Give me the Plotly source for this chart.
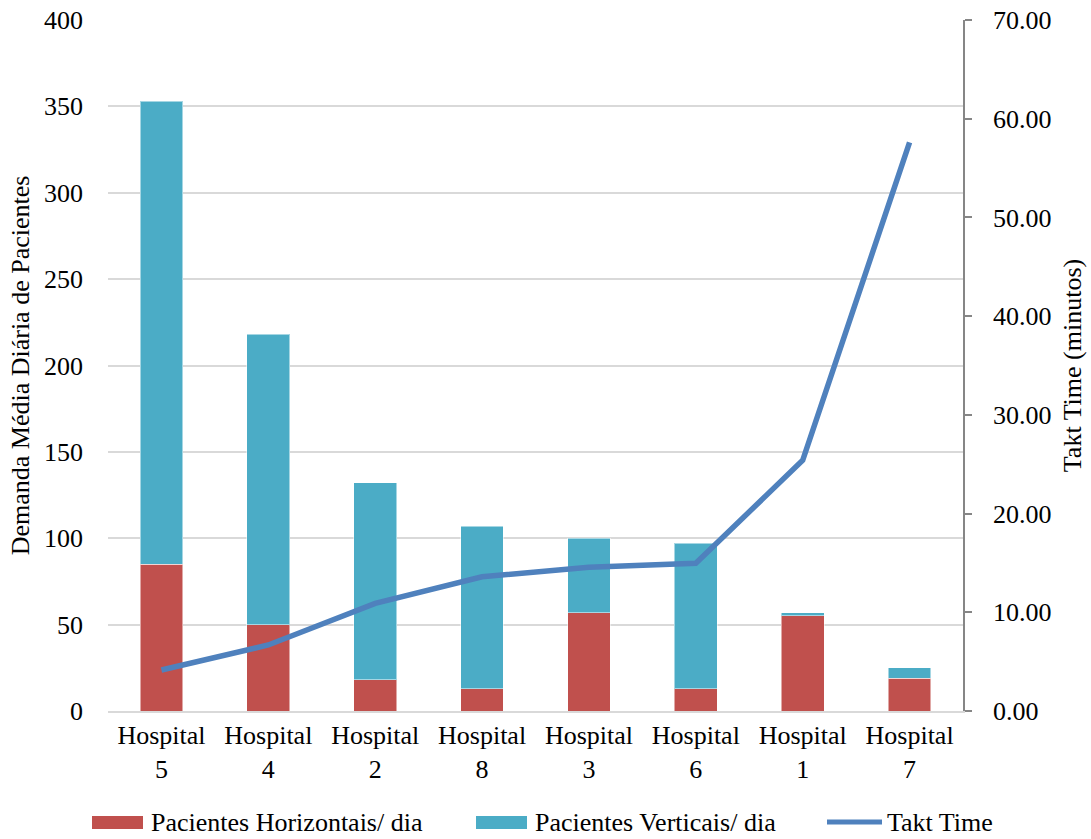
import plotly.graph_objects as go

# Hospitals ordered by increasing takt time
hospitais = ["Hospital<br>5", "Hospital<br>4", "Hospital<br>2", "Hospital<br>8",
             "Hospital<br>3", "Hospital<br>6", "Hospital<br>1", "Hospital<br>7"]
horizontais = [85, 50, 18, 13, 57, 13, 55, 19]      # Pacientes Horizontais/ dia
verticais = [268, 168, 114, 94, 43, 84, 2, 6]       # Pacientes Verticais/ dia
takt_time = [4.15, 6.69, 10.9, 13.6, 14.56, 14.96, 25.4, 57.6]  # minutos

COR_H = "#C0504D"
COR_V = "#4BACC6"
COR_T = "#4F81BD"
FONTE = "Liberation Serif, Times New Roman, serif"
TAM = 26

W, H = 1091, 839
L, R, T, B = 108, 128, 20, 128
PW, PH = W - L - R, H - T - B


def px_x(x):
    return (x - L) / PW


def px_y(y):
    return (H - B - y) / PH


fig = go.Figure()
fig.add_trace(go.Bar(x=hospitais, y=horizontais, name="Pacientes Horizontais/ dia",
                     marker=dict(color=COR_H, line=dict(color="rgba(255,255,255,0.5)", width=1)),
                     showlegend=False))
fig.add_trace(go.Bar(x=hospitais, y=verticais, name="Pacientes Verticais/ dia",
                     marker=dict(color=COR_V, line=dict(color="rgba(255,255,255,0.5)", width=1)),
                     showlegend=False))
fig.add_trace(go.Scatter(x=hospitais, y=takt_time, name="Takt Time", yaxis="y2",
                         mode="lines", line=dict(color=COR_T, width=5.5),
                         showlegend=False))

# Legend drawn below the plot
LEG_Y = 822
legend_items = [
    ("rect", COR_H, 92, 143, "Pacientes Horizontais/ dia", 149),
    ("rect", COR_V, 476, 527, "Pacientes Verticais/ dia", 533),
    ("line", COR_T, 827, 882, "Takt Time", 885),
]
shapes = []
annotations = []
for kind, cor, x0, x1, texto, xt in legend_items:
    if kind == "rect":
        shapes.append(dict(type="rect", xref="paper", yref="paper",
                           x0=px_x(x0), x1=px_x(x1), y0=px_y(LEG_Y + 7), y1=px_y(LEG_Y - 6),
                           fillcolor=cor, line=dict(width=0)))
    else:
        shapes.append(dict(type="line", xref="paper", yref="paper",
                           x0=px_x(x0), x1=px_x(x1), y0=px_y(LEG_Y), y1=px_y(LEG_Y),
                           line=dict(color=cor, width=5)))
    annotations.append(dict(text=texto, xref="paper", yref="paper",
                            x=px_x(xt), y=px_y(LEG_Y), xanchor="left", yanchor="middle",
                            showarrow=False, font=dict(family=FONTE, size=TAM, color="black")))

fig.update_layout(
    width=W, height=H,
    margin=dict(l=L, r=R, t=T, b=B, autoexpand=False),
    barmode="stack", bargap=0.6,
    plot_bgcolor="white", paper_bgcolor="white",
    font=dict(family=FONTE, size=TAM, color="black"),
    xaxis=dict(showgrid=False, showline=True, linecolor="#d9d9d9", linewidth=2,
               ticks="", tickfont=dict(size=TAM)),
    yaxis=dict(range=[0, 400], dtick=50, showgrid=True, gridcolor="#d9d9d9", gridwidth=1.5,
               zeroline=False, showline=False, ticks="", ticklabelstandoff=24,
               title=dict(text="Demanda Média Diária de Pacientes", standoff=6,
                          font=dict(size=TAM))),
    yaxis2=dict(range=[0, 70], dtick=10, tickformat=".2f", overlaying="y", side="right",
                showgrid=False, zeroline=False, showline=True, linecolor="#868686",
                linewidth=1.5, ticks="outside", ticklen=7, tickcolor="#868686",
                tickwidth=1.5, ticklabelstandoff=16,
                title=dict(text="Takt Time (minutos)", standoff=12, font=dict(size=TAM))),
    shapes=shapes, annotations=annotations,
)

fig.write_html("out.html")
